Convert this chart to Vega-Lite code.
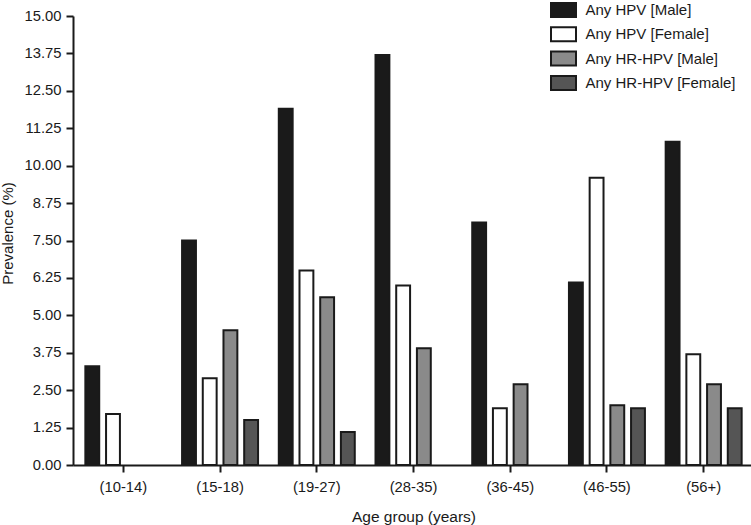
{
  "$schema": "https://vega.github.io/schema/vega-lite/v6.json",
  "autosize": "none",
  "width": 681,
  "height": 449,
  "padding": {"left": 73, "top": 16, "right": 0, "bottom": 60},
  "background": "white",
  "config": {
    "view": {"stroke": null},
    "font": "Liberation Sans",
    "axis": {
      "domainColor": "#1a1a1a", "domainWidth": 2, "tickColor": "#1a1a1a", "tickWidth": 2, "tickSize": 7,
      "labelColor": "#1a1a1a", "titleColor": "#1a1a1a", "labelFont": "Liberation Sans", "titleFont": "Liberation Sans",
      "titleFontWeight": "normal", "grid": false
    },
    "legend": {
      "labelFont": "Liberation Sans", "labelFontSize": 15, "labelColor": "#1a1a1a",
      "symbolStrokeColor": "#1a1a1a", "symbolStrokeWidth": 2, "symbolOpacity": 1
    }
  },
  "data": {
    "values": [
      {"age": "(10-14)", "series": "Any HPV [Male]", "value": 3.3},
      {"age": "(10-14)", "series": "Any HPV [Female]", "value": 1.7},
      {"age": "(15-18)", "series": "Any HPV [Male]", "value": 7.5},
      {"age": "(15-18)", "series": "Any HPV [Female]", "value": 2.9},
      {"age": "(15-18)", "series": "Any HR-HPV [Male]", "value": 4.5},
      {"age": "(15-18)", "series": "Any HR-HPV [Female]", "value": 1.5},
      {"age": "(19-27)", "series": "Any HPV [Male]", "value": 11.9},
      {"age": "(19-27)", "series": "Any HPV [Female]", "value": 6.5},
      {"age": "(19-27)", "series": "Any HR-HPV [Male]", "value": 5.6},
      {"age": "(19-27)", "series": "Any HR-HPV [Female]", "value": 1.1},
      {"age": "(28-35)", "series": "Any HPV [Male]", "value": 13.7},
      {"age": "(28-35)", "series": "Any HPV [Female]", "value": 6.0},
      {"age": "(28-35)", "series": "Any HR-HPV [Male]", "value": 3.9},
      {"age": "(36-45)", "series": "Any HPV [Male]", "value": 8.1},
      {"age": "(36-45)", "series": "Any HPV [Female]", "value": 1.9},
      {"age": "(36-45)", "series": "Any HR-HPV [Male]", "value": 2.7},
      {"age": "(46-55)", "series": "Any HPV [Male]", "value": 6.1},
      {"age": "(46-55)", "series": "Any HPV [Female]", "value": 9.6},
      {"age": "(46-55)", "series": "Any HR-HPV [Male]", "value": 2.0},
      {"age": "(46-55)", "series": "Any HR-HPV [Female]", "value": 1.9},
      {"age": "(56+)", "series": "Any HPV [Male]", "value": 10.8},
      {"age": "(56+)", "series": "Any HPV [Female]", "value": 3.7},
      {"age": "(56+)", "series": "Any HR-HPV [Male]", "value": 2.7},
      {"age": "(56+)", "series": "Any HR-HPV [Female]", "value": 1.9}
    ]
  },
  "mark": {"type": "bar", "stroke": "#1a1a1a", "strokeWidth": 2, "opacity": 1},
  "encoding": {
    "x": {
      "field": "age", "type": "nominal",
      "scale": {"domain": ["(10-14)", "(15-18)", "(19-27)", "(28-35)", "(36-45)", "(46-55)", "(56+)"], "paddingInner": 0.193, "paddingOuter": 0.117},
      "axis": {"title": "Age group (years)", "labelAngle": 0, "labelFontSize": 14.8, "titleFontSize": 15.5, "labelPadding": 7, "titlePadding": 16}
    },
    "xOffset": {
      "field": "series", "type": "nominal",
      "scale": {"domain": ["Any HPV [Male]", "Any HPV [Female]", "Any HR-HPV [Male]", "Any HR-HPV [Female]"], "paddingInner": 0.33, "paddingOuter": 0.05}
    },
    "y": {
      "field": "value", "type": "quantitative",
      "scale": {"domain": [0, 15], "nice": false, "zero": true},
      "axis": {"title": "Prevalence (%)", "values": [0, 1.25, 2.5, 3.75, 5, 6.25, 7.5, 8.75, 10, 11.25, 12.5, 13.75, 15], "format": ".2f", "labelFontSize": 14.8, "titleFontSize": 15, "labelPadding": 5, "titlePadding": 8, "titleY": 217}
    },
    "fill": {
      "field": "series", "type": "nominal",
      "scale": {"domain": ["Any HPV [Male]", "Any HPV [Female]", "Any HR-HPV [Male]", "Any HR-HPV [Female]"], "range": ["#1a1a1a", "#ffffff", "#8a8a8a", "#555555"]},
      "legend": {
        "title": null, "orient": "none", "legendX": 479.5, "legendY": -17,
        "symbolType": "M-1.25,-0.7H1.25V0.7H-1.25Z", "symbolSize": 400, "labelOffset": 11, "rowPadding": 2.3, "padding": 0
      }
    }
  }
}
